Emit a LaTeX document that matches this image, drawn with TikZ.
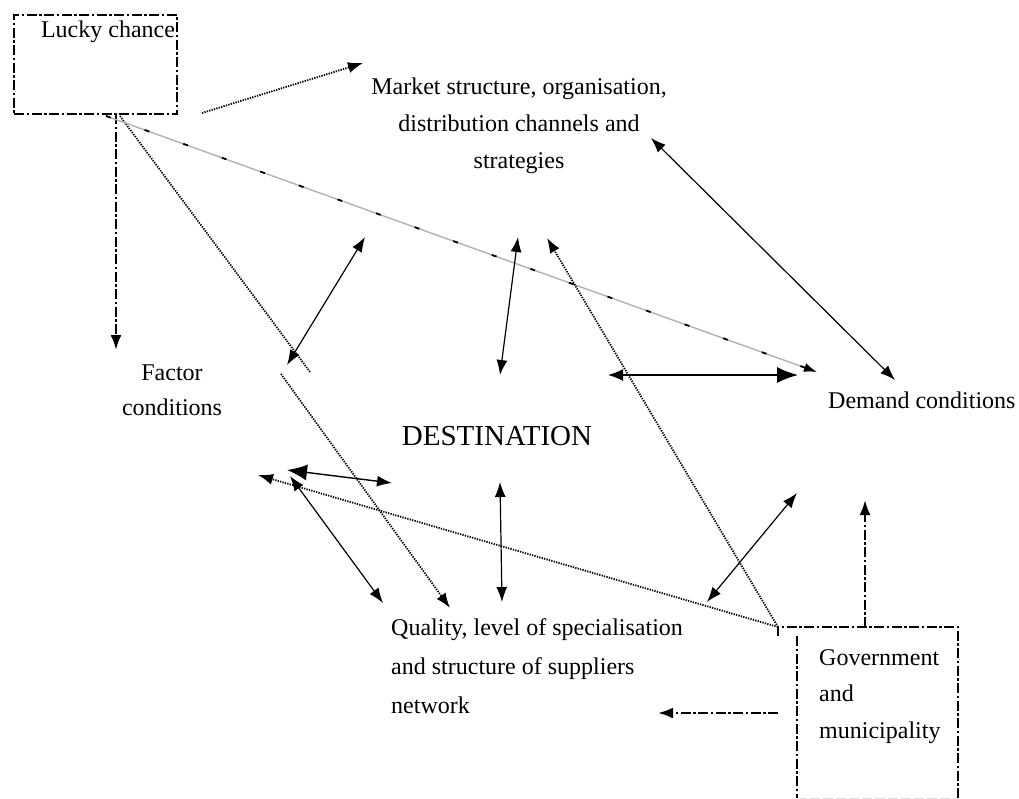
\documentclass[tikz,border=0pt]{standalone}
\usepackage{fontspec}
\setmainfont{Liberation Serif}
\usetikzlibrary{arrows.meta}
\begin{document}
\begin{tikzpicture}[x=1pt,y=-1pt,
  lbl/.style={inner sep=0pt, font=\fontsize{24}{37}\selectfont},
  dashdotline/.style={line width=2.3pt, dash pattern=on 10pt off 2.5pt on 2.5pt off 2.5pt},
  dashdotarr/.style={dashdotline, -{Latex[length=15pt,width=11pt]}},
  dotline/.style={line width=1.8pt, dash pattern=on 1.3pt off 1.2pt},
  dotarr/.style={dotline, -{Latex[length=15pt,width=11pt]}},
  solidarr/.style={line width=1.2pt, {Latex[length=15pt,width=11pt]}-{Latex[length=15pt,width=11pt]}},
  grayarr/.style={draw=gray!60, line width=1.4pt, -{Latex[length=13pt,width=9pt]},
    postaction={draw=black, line width=1.8pt, dash pattern=on 5pt off 36pt}},
]
\useasboundingbox (0,0) rectangle (1019,798);

% texts
\node[draw, dashdotline, minimum width=163pt, minimum height=99pt, inner sep=0pt, anchor=north west] (lucky) at (13,14) {};
\node[lbl, anchor=base] (luckytxt) at (108,37) {Lucky chance};
\node[lbl, align=center, anchor=base] (market) at (519,168) {Market structure, organisation,\\ distribution channels and\\ strategies};
\node[inner sep=0pt, font=\fontsize{24}{35}\selectfont, align=center, anchor=base] (factor) at (172,415) {Factor\\ conditions};
\node[inner sep=0pt, font=\fontsize{29}{35}\selectfont, anchor=base] (dest) at (497,445) {DESTINATION};
\node[lbl, anchor=base west] (demand) at (828,408) {Demand conditions};
\node[inner sep=0pt, font=\fontsize{24}{39}\selectfont, align=left, anchor=base west] (quality) at (391,713) {Quality, level of specialisation\\ and structure of suppliers\\ network};
\node[inner sep=0pt, font=\fontsize{24}{36.5}\selectfont, align=left, anchor=base west] (govtxt) at (819,738) {Government\\ and\\ municipality};

% government box
\coordinate (gNW) at (778,627);
\coordinate (gNWt) at (778,636);
\coordinate (gNE) at (958,627);
\coordinate (gSE) at (958,798);
\coordinate (gLi) at (797,636);
\coordinate (gLb) at (797,798);
\draw[dashdotline] (gNWt) -- (gNW) -- (gNE) -- (gSE);
\draw[dashdotline] (gLi) -- (gLb);
\draw[gray!25, line width=1pt, dash pattern=on 10pt off 3pt] (gLb) -- (gSE);

% end points
\coordinate (luckyA) at (202,113);
\coordinate (marketW) at (363,63);
\coordinate (luckyB) at (116,114);
\coordinate (factorN) at (116,350);
\coordinate (luckyC) at (120,116);
\coordinate (brk1) at (310,372);
\coordinate (brk2) at (281,374);
\coordinate (qualN) at (450,608);
\coordinate (luckyD) at (106,116);
\coordinate (demandW) at (817,372);
\coordinate (f1) at (287,365);
\coordinate (m1) at (365,237);
\coordinate (m2) at (518,237);
\coordinate (d1) at (500,375);
\coordinate (m3) at (547,238);
\coordinate (m4) at (651,138);
\coordinate (dm1) at (895,380);
\coordinate (d2) at (608,375);
\coordinate (dm2) at (798,375);
\coordinate (d3) at (500,482);
\coordinate (q1) at (502,602);
\coordinate (f2) at (287,470);
\coordinate (d4) at (392,483);
\coordinate (f3) at (290,476);
\coordinate (q2) at (383,603);
\coordinate (f4) at (258,475);
\coordinate (dm3) at (797,493);
\coordinate (q3) at (707,602);
\coordinate (gUp) at (865,627);
\coordinate (dm4) at (865,500);
\coordinate (gL) at (778,713);
\coordinate (q4) at (658,713);

% connectors
\draw[dotarr] (luckyA) -- (marketW);
\draw[dashdotarr] (luckyB) -- (factorN);
\draw[dotline] (luckyC) -- (brk1);
\draw[dotarr] (brk2) -- (qualN);
\draw[grayarr] (luckyD) -- (demandW);
\draw[solidarr] (f1) -- (m1);
\draw[solidarr] (m2) -- (d1);
\draw[dotarr] (gNW) -- (m3);
\draw[solidarr] (m4) -- (dm1);
\draw[line width=1.4pt, {Latex[length=15pt,width=12pt]}-{Latex[length=21pt,width=16pt]}] (d2) -- (dm2);
\draw[solidarr] (d3) -- (q1);
\draw[line width=1.4pt, {Latex[length=20pt,width=16pt]}-{Latex[length=15pt,width=11pt]}] (f2) -- (d4);
\draw[solidarr] (f3) -- (q2);
\draw[dotarr] (gNW) -- (f4);
\draw[solidarr] (dm3) -- (q3);
\draw[dashdotarr] (gUp) -- (dm4);
\draw[dashdotarr] (gL) -- (q4);
\end{tikzpicture}
\end{document}
